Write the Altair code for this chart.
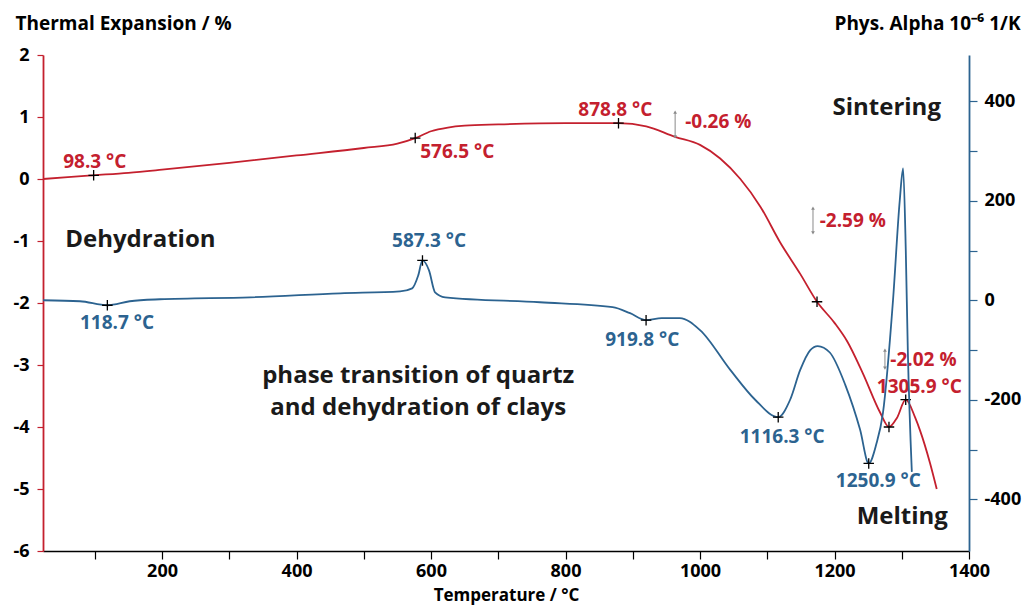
import altair as alt
import pandas as pd

RED = "#C4202E"
BLUE = "#2C6390"
FONT = "Open Sans"

# ---- Thermal expansion (%), left axis ----
red_T = [23, 60, 98.3, 150, 200, 300, 400, 500, 550, 576.5, 600, 625, 650, 700, 800, 878.8,
         920, 963, 1000, 1030, 1060, 1090, 1119, 1149, 1174, 1200, 1219, 1242, 1268,
         1281, 1293, 1305.9, 1320, 1327, 1342, 1352]
red_v = [0.0, 0.03, 0.06, 0.1, 0.15, 0.26, 0.38, 0.5, 0.57, 0.66, 0.77, 0.83, 0.86, 0.88, 0.9, 0.9,
         0.85, 0.68, 0.55, 0.33, 0.0, -0.45, -1.02, -1.53, -1.98, -2.32, -2.62, -3.13, -3.77,
         -4.0, -3.85, -3.56, -3.85, -4.05, -4.58, -5.0]
red_mark_T = [98.3, 576.5, 878.8, 1174, 1281, 1305.9]
red_mark_v = [0.06, 0.66, 0.9, -1.98, -4.0, -3.56]

# ---- Phys. Alpha (1e-6 1/K), right axis ----
blue_T = [23, 78, 118.7, 152, 197, 331, 465, 554, 572, 581, 587.3, 597, 606, 621, 762, 870, 896,
          919.8, 943, 970, 1000, 1045, 1082, 1116.3, 1134, 1149, 1164, 1175, 1193, 1216, 1238,
          1250.9, 1262, 1272, 1287, 1297, 1302, 1306, 1309, 1315]
blue_v = [0, -2, -10, -2, 2, 6, 14, 18, 24, 50, 80, 60, 16, 6, -4, -14, -26,
          -40, -36, -36, -60, -140, -200, -235, -200, -140, -100, -92, -105, -170, -260,
          -328, -290, -227, 0, 200, 265, 100, -100, -345]
blue_mark_T = [118.7, 587.3, 919.8, 1116.3, 1250.9]
blue_mark_v = [-10, 80, -40, -235, -328]

# ---- annotation labels (anchored in left-axis data units) ----
red_labels = ["98.3 °C", "576.5 °C", "878.8 °C", "-0.26 %", "-2.59 %", "-2.02 %", "1305.9 °C"]
red_label_T = [53, 584, 819, 978, 1178, 1283, 1263]
red_label_v = [0.27, 0.44, 1.11, 0.92, -0.68, -2.92, -3.35]

blue_labels = ["118.7 °C", "587.3 °C", "919.8 °C", "1116.3 °C", "1250.9 °C"]
blue_label_T = [78, 542, 859, 1059, 1202]
blue_label_v = [-2.32, -1.0, -2.6, -4.16, -4.87]

black_labels = ["Dehydration", "Sintering", "Melting"]
black_label_T = [56, 1197, 1233]
black_label_v = [-0.98, 1.15, -5.45]

phase_lines = ["phase transition of quartz", "and dehydration of clays"]
phase_T = [581, 581]
phase_v = [-3.17, -3.69]

arrow_T = [963, 1168, 1275]
arrow_top = [1.08, -0.47, -2.76]
arrow_bottom = [0.68, -0.87, -3.05]

x_ticks = list(range(100, 1401, 100))
left_ticks = list(range(-6, 3))
right_ticks = list(range(-400, 401, 100))

xs = alt.Scale(domain=[23, 1400], nice=False, zero=False)
yl = alt.Scale(domain=[-6, 2], nice=False, zero=False)
yr = alt.Scale(domain=[-504, 493], nice=False, zero=False)

x_axis = alt.Axis(values=x_ticks, format="d",
                  labelExpr="datum.value % 200 == 0 ? datum.label : ''",
                  title="Temperature / °C", titleFont=FONT, titleFontSize=17, titleFontWeight="bold",
                  titleColor="black", titlePadding=7,
                  labelFont=FONT, labelFontSize=18, labelFontWeight="bold", labelColor="black",
                  labelPadding=3, tickSize=8, tickColor="black", domainColor="black",
                  domainWidth=1.6, tickWidth=1.2, grid=False, labelFlush=False)

left_axis = alt.Axis(values=left_ticks, format="d", title="Thermal Expansion / %",
                     labelExpr="replace(datum.label, '\u2212', '-')",
                     titleAngle=0, titleAlign="left", titleBaseline="middle", titleX=-28, titleY=-32,
                     titleFont=FONT, titleFontSize=19, titleFontWeight="bold", titleColor="black",
                     labelFont=FONT, labelFontSize=18, labelFontWeight="bold", labelColor="black",
                     labelPadding=8, tickSize=6, tickColor=RED, domainColor=RED, domainWidth=1.8,
                     tickWidth=1.2, grid=False, labelFlush=False)

right_axis = alt.Axis(values=right_ticks, format="d", orient="right",
                      labelExpr="datum.value % 200 == 0 ? replace(datum.label, '\u2212', '-') : ''",
                      title="Phys. Alpha 10⁻⁶ 1/K",
                      titleAngle=0, titleAlign="right", titleBaseline="middle", titleX=51, titleY=-32,
                      titleFont=FONT, titleFontSize=19, titleFontWeight="bold", titleColor="black",
                      labelFont=FONT, labelFontSize=18, labelFontWeight="bold", labelColor="black",
                      labelPadding=7, tickSize=8, tickColor=BLUE, domainColor=BLUE, domainWidth=1.8,
                      tickWidth=1.2, grid=False, labelFlush=False)

red_df = pd.DataFrame({"T": red_T, "v": red_v})
blue_df = pd.DataFrame({"T": blue_T, "v": blue_v})
red_mk = pd.DataFrame({"T": red_mark_T, "v": red_mark_v})
blue_mk = pd.DataFrame({"T": blue_mark_T, "v": blue_mark_v})
red_lab = pd.DataFrame({"T": red_label_T, "v": red_label_v, "t": red_labels})
blue_lab = pd.DataFrame({"T": blue_label_T, "v": blue_label_v, "t": blue_labels})
black_lab = pd.DataFrame({"T": black_label_T, "v": black_label_v, "t": black_labels})
phase_lab = pd.DataFrame({"T": phase_T, "v": phase_v, "t": phase_lines})
arr = pd.DataFrame({"T": arrow_T, "top": arrow_top, "bot": arrow_bottom})

CROSS = "M -1 0 L 1 0 M 0 -1 L 0 1"

X = alt.X("T:Q", scale=xs, axis=x_axis)


def YL(field):
    return alt.Y(field, scale=yl, axis=left_axis)


def YR(field):
    return alt.Y(field, scale=yr, axis=right_axis)


red_line = alt.Chart(red_df).mark_line(color=RED, strokeWidth=1.8, interpolate="monotone").encode(
    x=X, y=YL("v:Q"))
red_pts = alt.Chart(red_mk).mark_point(shape=CROSS, filled=False, color="black", size=110,
                                       strokeWidth=1.3, opacity=1).encode(x=X, y=YL("v:Q"))


def text_layer(df, color, size, align="left"):
    return alt.Chart(df).mark_text(font=FONT, fontSize=size, fontWeight="bold", color=color,
                                   align=align, baseline="middle").encode(
        x=X, y=YL("v:Q"), text="t:N")


red_txt = text_layer(red_lab, RED, 19)
blue_txt = text_layer(blue_lab, BLUE, 19)
black_txt = text_layer(black_lab, "#1a1a1a", 24)
phase_txt = text_layer(phase_lab, "#1a1a1a", 24, align="center")

arrow_rule = alt.Chart(arr).mark_rule(color="#8a8a8a", strokeWidth=1).encode(
    x=X, y=YL("top:Q"), y2="bot:Q")
arrow_up = alt.Chart(arr).mark_point(shape="triangle-up", filled=True, color="#8a8a8a", size=14,
                                     opacity=1).encode(x=X, y=YL("top:Q"))
arrow_dn = alt.Chart(arr).mark_point(shape="triangle-down", filled=True, color="#8a8a8a", size=14,
                                     opacity=1).encode(x=X, y=YL("bot:Q"))

left_group = alt.layer(red_line, arrow_rule, arrow_up, arrow_dn, red_pts, red_txt, blue_txt,
                       black_txt, phase_txt)

blue_line = alt.Chart(blue_df).mark_line(color=BLUE, strokeWidth=1.8, interpolate="monotone").encode(
    x=X, y=YR("v:Q"))
blue_pts = alt.Chart(blue_mk).mark_point(shape=CROSS, filled=False, color="black", size=110,
                                         strokeWidth=1.3, opacity=1).encode(x=X, y=YR("v:Q"))
right_group = alt.layer(blue_line, blue_pts)

chart = alt.layer(left_group, right_group).resolve_scale(y="independent").properties(
    width=926, height=496,
    autosize=alt.AutoSizeParams(type="none"),
    padding={"left": 43, "top": 55, "right": 61, "bottom": 57},
    background="white",
).configure_view(stroke=None)

chart.save("out.html", embed_options={"renderer": "svg", "actions": False})
